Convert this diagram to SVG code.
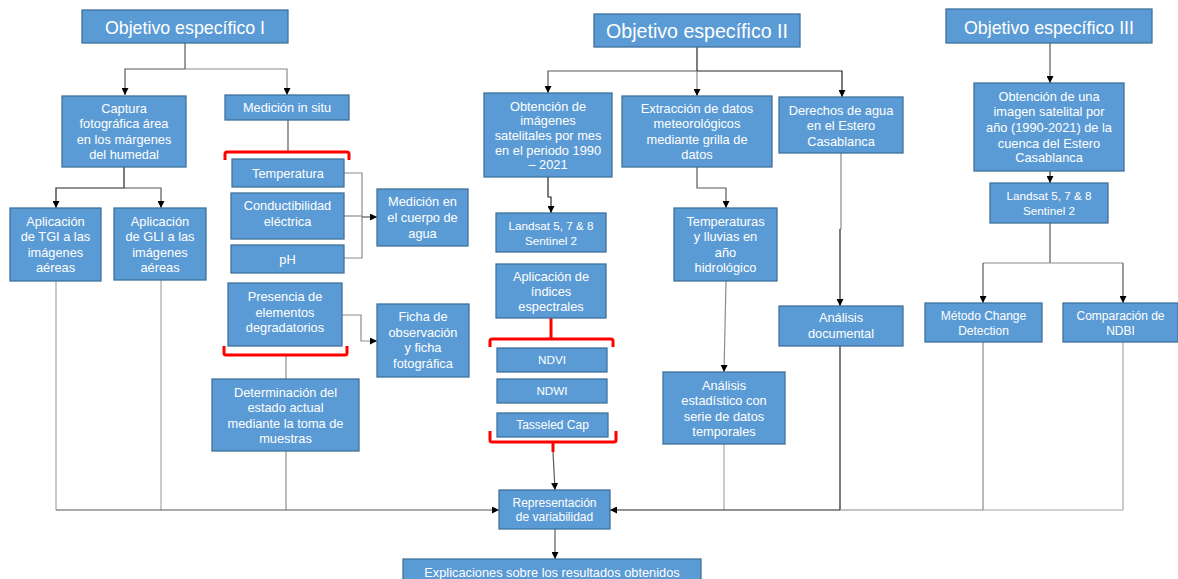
<svg xmlns="http://www.w3.org/2000/svg" width="1178" height="579" viewBox="0 0 1178 579">
<style>
.b{fill:#5b9bd5;stroke:#41719c;stroke-width:1.3}
text{font-family:"Liberation Sans",Arial,sans-serif;fill:#fff;text-anchor:middle;font-size:12.8px}
.s{font-size:12px}
.xs{font-size:11.7px}
.t1{font-size:17.8px}
.t2{font-size:19.6px}
.c{fill:none;stroke-width:1.2}
.k{stroke:#262626}
.d{stroke:#595959}
.g{stroke:#8c8c8c}
.l{stroke:#a6a6a6}
.r{fill:none;stroke:#ff0000;stroke-width:3}
</style>
<defs>
<marker id="a" viewBox="0 0 10 10" refX="10" refY="5" markerWidth="7" markerHeight="7" orient="auto" markerUnits="userSpaceOnUse"><path d="M0,0 L10,5 L0,10 z" fill="#000"/></marker>
</defs>
<rect width="1178" height="579" fill="#fff"/>
<g id="connectors">
<path class="c d" d="M185,43 V69"/>
<path class="c d" d="M185,69 H125 V95" marker-end="url(#a)"/>
<path class="c g" d="M185,69 H287 V95" marker-end="url(#a)"/>
<path class="c k" d="M124,167 V188 H56 V208" marker-end="url(#a)"/>
<path class="c d" d="M124,188 H161 V208" marker-end="url(#a)"/>
<path class="c d" d="M288,120 V152"/>
<path class="c g" d="M344,173 H362 V258 H344"/>
<path class="c g" d="M344,216 H362"/>
<path class="c d" d="M362,217 H377" marker-end="url(#a)"/>
<path class="c g" d="M342,315 H361 V341 H377" marker-end="url(#a)"/>
<path class="c g" d="M286,355 V379"/>
<path class="c g" d="M286,451 V510"/>
<path class="c l" d="M56,281 V510"/>
<path class="c l" d="M161,280 V510"/>
<path class="c d" d="M56,510 H499" marker-end="url(#a)"/>
<path class="c k" d="M697,47 V71"/>
<path class="c d" d="M697,71 H548 V93" marker-end="url(#a)"/>
<path class="c g" d="M697,71 V96" marker-end="url(#a)"/>
<path class="c k" d="M697,71 H842 V97" marker-end="url(#a)"/>
<path class="c k" d="M548,177 V197 H551 V213" marker-end="url(#a)"/>
<path class="c d" d="M553,452 L555,490" marker-end="url(#a)"/>
<path class="c d" d="M555,529 V559" marker-end="url(#a)"/>
<path class="c d" d="M697,167 V188 H726 V208" marker-end="url(#a)"/>
<path class="c g" d="M726,281 L724,372" marker-end="url(#a)"/>
<path class="c l" d="M724,444 V510"/>
<path class="c g" d="M841,153 V229 H840"/>
<path class="c k" d="M840,229 V306" marker-end="url(#a)"/>
<path class="c k" d="M840,346 V510"/>
<path class="c l" d="M1123,510 H983"/>
<path class="c g" d="M983,510 H840"/>
<path class="c k" d="M840,510 H610" marker-end="url(#a)"/>
<path class="c d" d="M1050,43 V83" marker-end="url(#a)"/>
<path class="c k" d="M1050,171 V183" marker-end="url(#a)"/>
<path class="c d" d="M1050,223 V263"/>
<path class="c g" d="M983,263 H1123"/>
<path class="c d" d="M983,263 V303" marker-end="url(#a)"/>
<path class="c d" d="M1123,263 V303" marker-end="url(#a)"/>
<path class="c g" d="M983,342 V510"/>
<path class="c l" d="M1123,342 V510"/>
<path class="r" d="M225,160 V154 Q225,152 227,152 H347 Q349,152 349,154 V160"/>
<path class="r" d="M224,346 V353 Q224,355 226,355 H345 Q347,355 347,353 V346"/>
<path class="r" d="M551,318 V339"/>
<path class="r" d="M490,347 V341 Q490,339 492,339 H611 Q613,339 613,341 V347"/>
<path class="r" d="M490,431 V440 Q490,442 492,442 H614 Q616,442 616,440 V431"/>
<path class="r" d="M553,442 V452"/>
</g>
<g id="ob1"><rect class="b" x="82" y="10" width="206" height="33"/><text class="t1" x="185" y="34">Objetivo específico I</text></g>
<g id="ob2"><rect class="b" x="594" y="14" width="206" height="33"/><text class="t2" x="697" y="38">Objetivo específico II</text></g>
<g id="ob3"><rect class="b" x="946" y="9" width="206" height="34"/><text class="t1" x="1049" y="34">Objetivo específico III</text></g>
<g id="captura"><rect class="b" x="62" y="96" width="124" height="71"/><text x="124" y="112.8">Captura</text><text x="124" y="128.3">fotográfica área</text><text x="124" y="143.8">en los márgenes</text><text x="124" y="159.3">del humedal</text></g>
<g id="medicion"><rect class="b" x="225" y="95" width="124" height="25"/><text x="287" y="112">Medición in situ</text></g>
<g id="temperatura"><rect class="b" x="232" y="159" width="112" height="28"/><text x="288" y="177.5">Temperatura</text></g>
<g id="conductibilidad"><rect class="b" x="231" y="193" width="113" height="46"/><text x="287.5" y="210">Conductibilidad</text><text x="287.5" y="225.5">eléctrica</text></g>
<g id="ph"><rect class="b" x="231" y="245" width="113" height="28"/><text x="287.5" y="263.5">pH</text></g>
<g id="cuerpo-agua"><rect class="b" x="377" y="189" width="91" height="57"/><text x="422.5" y="206">Medición en</text><text x="422.5" y="222">el cuerpo de</text><text x="422.5" y="237.5">agua</text></g>
<g id="presencia"><rect class="b" x="228" y="283" width="114" height="63"/><text x="285" y="301">Presencia de</text><text x="285" y="316.5">elementos</text><text x="285" y="332">degradatorios</text></g>
<g id="ficha"><rect class="b" x="377" y="304" width="92" height="73"/><text x="423" y="321">Ficha de</text><text x="423" y="336.5">observación</text><text x="423" y="352">y ficha</text><text x="423" y="367.5">fotográfica</text></g>
<g id="determinacion"><rect class="b" x="212" y="379" width="147" height="72"/><text x="285.5" y="396.5">Determinación del</text><text x="285.5" y="412">estado actual</text><text x="285.5" y="427.5">mediante la toma de</text><text x="285.5" y="443">muestras</text></g>
<g id="tgi"><rect class="b" x="10" y="208" width="91" height="73"/><text x="55.5" y="225.5">Aplicación</text><text x="55.5" y="241">de TGI a las</text><text x="55.5" y="256.5">imágenes</text><text x="55.5" y="272">aéreas</text></g>
<g id="gli"><rect class="b" x="114" y="208" width="92" height="72"/><text x="160" y="225.5">Aplicación</text><text x="160" y="241">de GLI a las</text><text x="160" y="256.5">imágenes</text><text x="160" y="272">aéreas</text></g>
<g id="obtencion"><rect class="b" x="484" y="93" width="128" height="84"/><text x="548" y="110.5">Obtención de</text><text x="548" y="125.2">imágenes</text><text x="548" y="139.9">satelitales por mes</text><text x="548" y="154.6">en el periodo 1990</text><text x="548" y="169.3">– 2021</text></g>
<g id="extraccion"><rect class="b" x="622" y="96" width="150" height="71"/><text x="697" y="112.8">Extracción de datos</text><text x="697" y="128.3">meteorológicos</text><text x="697" y="143.8">mediante grilla de</text><text x="697" y="159.3">datos</text></g>
<g id="derechos"><rect class="b" x="779" y="97" width="124" height="56"/><text x="841" y="114.5">Derechos de agua</text><text x="841" y="130">en el Estero</text><text x="841" y="145.5">Casablanca</text></g>
<g id="landsat2"><rect class="b" x="496" y="213" width="110" height="39"/><text class="xs" x="551" y="229.5">Landsat 5, 7 &amp; 8</text><text class="xs" x="551" y="244.8">Sentinel 2</text></g>
<g id="indices"><rect class="b" x="496" y="264" width="110" height="54"/><text x="551" y="281">Aplicación de</text><text x="551" y="295.8">índices</text><text x="551" y="310.6">espectrales</text></g>
<g id="ndvi"><rect class="b" x="497" y="348" width="110" height="24"/><text class="xs" x="552" y="364.3">NDVI</text></g>
<g id="ndwi"><rect class="b" x="497" y="379" width="110" height="24"/><text class="xs" x="552" y="395.3">NDWI</text></g>
<g id="tasseled"><rect class="b" x="497" y="413" width="111" height="24"/><text class="s" x="552.5" y="429.3">Tasseled Cap</text></g>
<g id="representacion"><rect class="b" x="499" y="490" width="111" height="39"/><text class="s" x="554.5" y="506.7">Representación</text><text class="s" x="554.5" y="521.2">de variabilidad</text></g>
<g id="explicaciones"><rect class="b" x="403" y="559" width="298" height="26"/><text x="552" y="576.5">Explicaciones sobre los resultados obtenidos</text></g>
<g id="temp-lluvias"><rect class="b" x="674" y="208" width="103" height="73"/><text x="725.5" y="225.5">Temperaturas</text><text x="725.5" y="241">y lluvias en</text><text x="725.5" y="256.7">año</text><text x="725.5" y="272">hidrológico</text></g>
<g id="estadistico"><rect class="b" x="663" y="372" width="122" height="72"/><text x="724" y="389.5">Análisis</text><text x="724" y="405">estadístico con</text><text x="724" y="420.7">serie de datos</text><text x="724" y="436">temporales</text></g>
<g id="documental"><rect class="b" x="779" y="306" width="124" height="40"/><text x="841" y="322.2">Análisis</text><text x="841" y="338">documental</text></g>
<g id="obtencion3"><rect class="b" x="974" y="83" width="150" height="88"/><text x="1049" y="100.5">Obtención de una</text><text x="1049" y="116">imagen satelital por</text><text x="1049" y="132">año (1990-2021) de la</text><text x="1049" y="147.5">cuenca del Estero</text><text x="1049" y="162">Casablanca</text></g>
<g id="landsat3"><rect class="b" x="990" y="183" width="118" height="40"/><text class="xs" x="1049" y="200.3">Landsat 5, 7 &amp; 8</text><text class="xs" x="1049" y="215">Sentinel 2</text></g>
<g id="change"><rect class="b" x="925" y="303" width="117" height="39"/><text class="s" x="983.5" y="320">Método Change</text><text class="s" x="983.5" y="334.5">Detection</text></g>
<g id="ndbi"><rect class="b" x="1063" y="303" width="115" height="39"/><text class="s" x="1120.5" y="320">Comparación de</text><text class="s" x="1120.5" y="334.5">NDBI</text></g>
</svg>
